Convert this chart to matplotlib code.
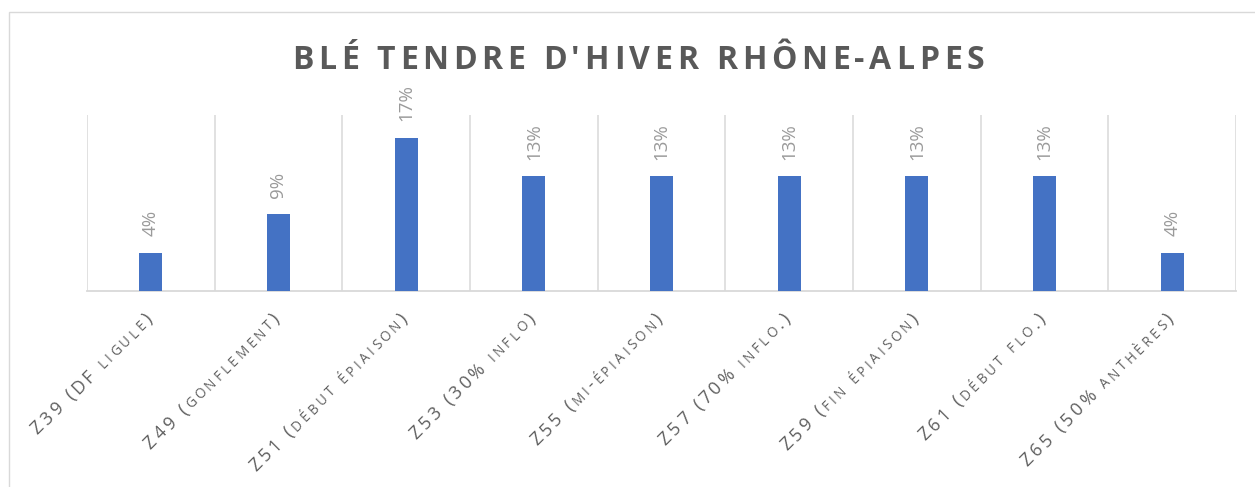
import matplotlib
matplotlib.use('Agg')
import math
import matplotlib.pyplot as plt
from matplotlib import font_manager
from matplotlib.transforms import IdentityTransform
from matplotlib.patches import Rectangle

# Données : part des stades (blé tendre d'hiver, Rhône-Alpes)
stades = ['Z39 (DF ligule)', 'Z49 (gonflement)', 'Z51 (début épiaison)',
          'Z53 (30% inflo)', 'Z55 (mi-épiaison)', 'Z57 (70% inflo.)',
          'Z59 (fin épiaison)', 'Z61 (début flo.)', 'Z65 (50% anthères)']
parts = [0.0435, 0.087, 0.1739, 0.1304, 0.1304, 0.1304, 0.1304, 0.1304, 0.0435]
titre = "BLÉ TENDRE D'HIVER RHÔNE-ALPES"

POLICE = 'Open Sans'
GRIS = '#d9d9d9'

fig = plt.figure(figsize=(12.55, 4.87), dpi=100)
ax = fig.add_axes([87 / 1255, 196 / 487, (1236 - 87) / 1255, 176 / 487])

x = list(range(len(stades)))
ax.bar(x, parts, width=0.18, color='#4472C4', zorder=3)

ax.set_xlim(-0.5, len(stades) - 0.5)
ax.set_ylim(0, 0.2)
ax.vlines([i - 0.5 for i in range(len(stades) + 1)], 0, 0.2, color=GRIS, lw=1.1, zorder=1)

for s in ['top', 'left', 'right']:
    ax.spines[s].set_visible(False)
ax.spines['bottom'].set_color(GRIS)
ax.spines['bottom'].set_linewidth(1.3)
ax.set_xticks([])
ax.set_yticks([])
ax.patch.set_alpha(0)

# étiquettes de pourcentage
for i, v in enumerate(parts):
    ax.annotate(f"{v:.0%}", (i, v), xytext=(0, 12), textcoords='offset points',
                rotation=90, ha='center', va='bottom', fontsize=13.5,
                color='#9a9a9a', family=POLICE)


def texte_espace(x0, y0, texte, taille, espace, couleur, poids='normal',
                 angle=0, petites=0.75, ancre='start'):
    # texte avec espacement des lettres et petites capitales (façon Excel)
    fp = font_manager.FontProperties(family=POLICE, weight=poids)
    font = font_manager.get_font(font_manager.findfont(fp))
    morceaux = []
    for ch in texte:
        t = taille
        if ch.islower():
            ch, t = ch.upper(), taille * petites
        font.set_size(t, fig.dpi)
        g = font.load_char(ord(ch))
        morceaux.append((ch, t, g.linearHoriAdvance / 65536))
    total = sum(m[2] for m in morceaux) + espace * (len(morceaux) - 1)
    dx, dy = math.cos(math.radians(angle)), math.sin(math.radians(angle))
    if ancre == 'end':
        x0, y0 = x0 - total * dx, y0 - total * dy
    elif ancre == 'center':
        x0, y0 = x0 - total * dx / 2, y0 - total * dy / 2
    pos = 0
    for ch, t, adv in morceaux:
        fig.text(x0 + pos * dx, y0 + pos * dy, ch, fontsize=t, color=couleur,
                 family=POLICE, weight=poids, rotation=angle,
                 rotation_mode='anchor', ha='left', va='baseline',
                 transform=IdentityTransform())
        pos += adv + espace


# titre
texte_espace(638, 487 - 69, titre, 23, 4.7, '#595959', poids='bold', ancre='center')

# étiquettes de l'axe, inclinées à 45°
for i, nom in enumerate(stades):
    cx, cy = ax.transData.transform((i, 0))
    texte_espace(cx + 2, cy - 29, nom, 13, 3.2, '#606060', angle=45, ancre='end')

# cadre du graphique
fig.add_artist(Rectangle((9 / 1255, -0.05), 1.1, 1 - 12 / 487 + 0.05,
                         transform=fig.transFigure, fill=False, ec=GRIS, lw=1.0))

fig.savefig('out.png', dpi=100)
